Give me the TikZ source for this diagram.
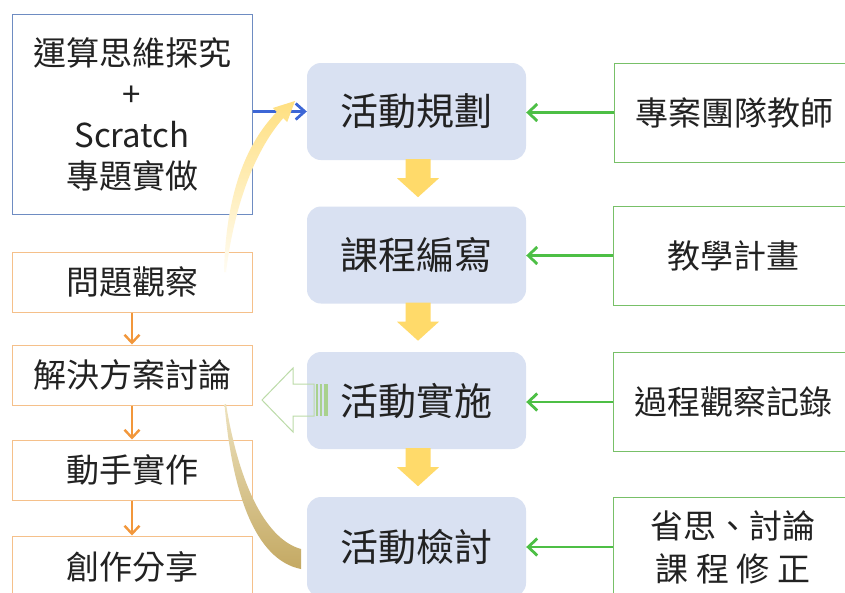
\documentclass[tikz,border=0pt]{standalone}
\usepackage{fontspec}
\setmainfont{Noto Sans CJK TC}
\usetikzlibrary{arrows.meta}
\definecolor{cfill}{HTML}{D9E1F2}
\definecolor{tlborder}{HTML}{6E8CC2}
\definecolor{bluearrow}{HTML}{3C66D6}
\definecolor{gborder}{HTML}{78C068}
\definecolor{garrow}{HTML}{4DBF45}
\definecolor{oborder}{HTML}{F5C08A}
\definecolor{oarrow}{HTML}{F2973B}
\definecolor{yarrow}{HTML}{FFDA6A}
\definecolor{hollow}{HTML}{BCDBA8}
\definecolor{stripe}{HTML}{A9D18E}
\definecolor{txt}{HTML}{222222}
\definecolor{tan}{HTML}{C4A963}
\definecolor{tanlight}{HTML}{EDE2BE}
\begin{document}
\begin{tikzpicture}[x=1pt,y=-1pt,
  central/.style={fill=cfill, rounded corners=14pt, minimum width=219pt, minimum height=97pt, inner sep=0pt, text=txt, font=\fontsize{38}{42}\selectfont},
  rightbox/.style={draw=gborder, line width=1pt, minimum width=240pt, minimum height=99pt, inner sep=0pt, text=txt, align=center, font=\fontsize{33}{43}\selectfont},
  leftbox/.style={draw=oborder, line width=1pt, minimum width=240pt, minimum height=60pt, inner sep=0pt, text=txt, font=\fontsize{33}{40}\selectfont},
  topbox/.style={draw=tlborder, line width=1pt, minimum width=240pt, minimum height=200pt, inner sep=0pt, text=txt, align=center, font=\fontsize{33}{41}\selectfont},
  garr/.style={draw=garrow, line width=2.5pt, -{Straight Barb[length=9pt,width=17pt,line width=2.8pt]}},
  oarr/.style={draw=oarrow, line width=2.4pt, -{Straight Barb[length=8pt,width=15pt,line width=2.4pt]}},
  barr/.style={draw=bluearrow, line width=2.5pt, -{Straight Barb[length=9pt,width=16pt,line width=2.8pt]}},
  yfill/.style={fill=yarrow}
]
\useasboundingbox (0,0) rectangle (845,592);
\fill[white] (0,0) rectangle (845,592);

% central column
\node[central] (c1) at (416.5,111.5) {活動規劃};
\node[central] (c2) at (416.5,255) {課程編寫};
\node[central] (c3) at (416.5,400.5) {活動實施};
\node[central, minimum height=100pt] (c4) at (416.5,547) {活動檢討};

% right column
\node[rightbox] (r1) at (734,112.5) {專案團隊教師};
\node[rightbox] (r2) at (733,255.5) {教學計畫};
\node[rightbox] (r3) at (733,402) {過程觀察記錄};
\node[rightbox, minimum height=100pt] (r4) at (733,547) {省思、討論\\課 程 修 正};

% top-left box
\node[topbox] (tl) at (132,114) {運算思維探究\\+\\Scratch\\專題實做};

% left column
\node[leftbox] (p1) at (132,282) {問題觀察};
\node[leftbox] (p2) at (132,375) {解決方案討論};
\node[leftbox] (p3) at (132,470) {動手實作};
\node[leftbox, minimum height=62pt] (p4) at (132,567) {創作分享};

% connectors
\draw[garr] (r1.west) -- (c1.east |- r1.west);
\draw[garr] (r2.west) -- (c2.east |- r2.west);
\draw[garr] (r3.west) -- (c3.east |- r3.west);
\draw[garr] (r4.west) -- (c4.east |- r4.west);
\draw[barr] (tl.east |- c1.west) -- (c1.west);
\draw[oarr] (p1.south) -- (p2.north);
\draw[oarr] (p2.south) -- (p3.north);
\draw[oarr] (p3.south) -- (p4.north);

% yellow block arrows down
\foreach \a in {c1,c2,c3}{
  \fill[yfill] ([xshift=1.5pt]\a.south) ++(-12.5,-1) -- ++(0,19) -- ++(-8.5,0) -- ++(21,19) -- ++(21,-19) -- ++(-8.5,0) -- ++(0,-19) -- cycle;
}

% hollow striped arrow pointing left
\draw[hollow, line width=1pt, line join=miter] (262,400) -- (293,368) -- (293,384) -- (314,384) -- (314,416) -- (293,416) -- (293,432) -- cycle;
\fill[stripe] (316,384) rectangle (318,416);
\fill[stripe] (320,384) rectangle (322,416);
\fill[stripe] (324,384) rectangle (327.5,416);

% curved yellow arrow (問題觀察 -> 活動規劃)
\coordinate (ys) at (224,272);
\shade[top color=yarrow!85, bottom color=yarrow!8]
  (ys) .. controls (226,195) and (245,145) .. (276.8,111.9)
  -- (272.8,108) -- (295,101) -- (287.2,122) -- (283.2,118.2)
  .. controls (257,148) and (235,200) .. (226,272) -- cycle;

% curved tan tail (解決方案討論 -> 活動檢討)
\coordinate (ts) at (224.5,404);
\shade[top color=tanlight, bottom color=tan]
  (ts) .. controls (232,492) and (255,560) .. (301,569)
  -- (301,549) .. controls (268,540) and (240,490) .. (226,404) -- cycle;
\end{tikzpicture}
\end{document}
